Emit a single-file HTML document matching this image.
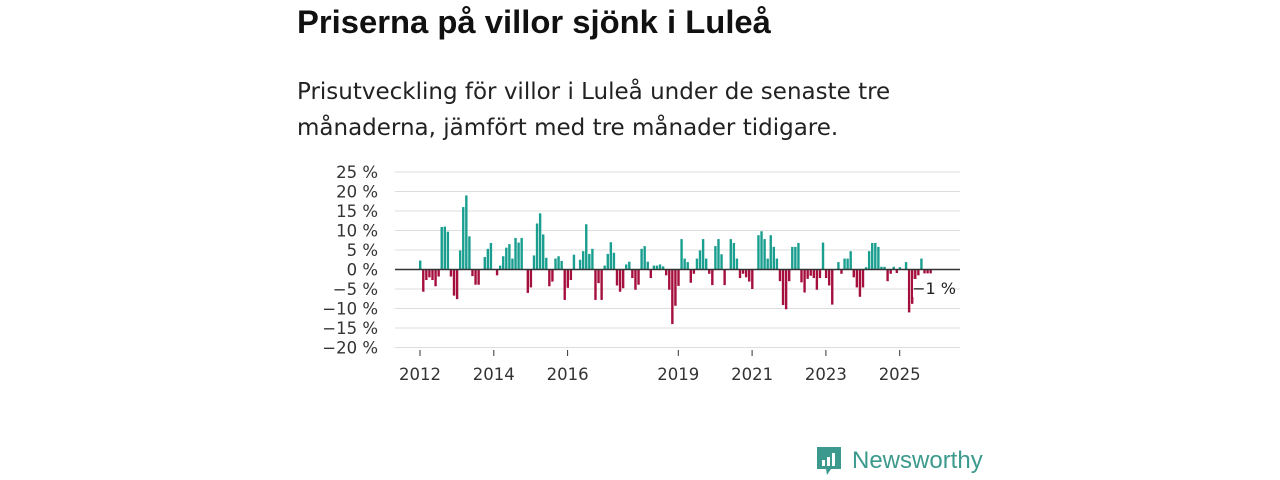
<!DOCTYPE html>
<html><head><meta charset="utf-8">
<style>
body{margin:0;width:1280px;height:480px;background:#fff;font-family:"DejaVu Sans",sans-serif;overflow:hidden;position:relative}
#title{position:absolute;left:297px;top:3px;font-size:32.8px;font-weight:bold;color:#111;margin:0;font-family:"Liberation Sans",sans-serif}
#sub{position:absolute;left:297px;top:74px;font-size:23px;line-height:36px;color:#222;margin:0;width:640px}
#logo{position:absolute;left:815px;top:445px;display:flex;align-items:center;color:#3b9a8d;font-size:24px;font-family:"Liberation Sans",sans-serif}
</style></head><body>
<h1 id="title">Priserna på villor sjönk i Luleå</h1>
<p id="sub">Prisutveckling för villor i Luleå under de senaste tre månaderna, jämfört med tre månader tidigare.</p>
<svg id="chart" width="1280" height="480" style="position:absolute;left:0;top:0" xmlns="http://www.w3.org/2000/svg"></svg>
<div id="logo">
<svg width="28" height="32" viewBox="0 0 28 32"><path d="M2 2h24v22H16l-4 6-1-6H2z" fill="#3b9a8d"/><rect x="7" y="15" width="3" height="6" fill="#fff"/><rect x="12" y="12" width="3" height="9" fill="#fff"/><rect x="17" y="8" width="3" height="13" fill="#fff"/></svg>
<span style="margin-left:9px">Newsworthy</span></div>
<script>
const startYear = 2012;
const values = [2.3,-5.7,-2.7,-2,-2.7,-4.3,-1.8,10.9,11,9.7,-1.8,-6.7,-7.6,4.9,16,19,8.5,-1.7,-3.9,-3.9,0,3.2,5.3,6.8,0,-1.5,1,3.4,5.6,6.5,2.8,8.1,6.9,8.1,0,-6,-4.6,3.6,11.8,14.4,9,3,-4.3,-3.1,2.8,3.4,2.2,-7.8,-4.7,-2.7,3.8,0,2.5,4.7,11.6,4,5.3,-7.8,-3.5,-7.8,1,4,7,4.3,-4.1,-5.7,-4.8,1.3,2,-2.2,-5.2,-3.9,5.3,6,2,-2.2,1,1,1.3,0.8,-1.5,-5.2,-14,-9.3,-4.2,7.8,2.8,1.9,-3.4,-1.1,2.8,4.9,7.8,2.8,-1.1,-4,6,7.8,3.9,-4,0,7.8,6.8,2.8,-2.2,-1.1,-2,-3.1,-5,0,8.8,9.8,7.8,2.8,8.8,5.8,2.8,-3,-9.1,-10.2,-3,5.8,5.8,6.8,-3.3,-5.9,-2.4,-1.6,-2.2,-5.2,-2.2,6.9,-2.2,-4.1,-9,0,1.9,-1.1,2.8,2.8,4.7,-2,-4.6,-7,-4.6,0.6,4.7,6.8,6.8,5.8,0.7,0.7,-3,-1.1,0.7,-0.9,0.6,0,1.9,-11,-8.8,-4.6,-1.5,2.8,-1,-1,-1];
const yTicks = [25,20,15,10,5,0,-5,-10,-15,-20];
const xTickYears = [2012,2014,2016,2019,2021,2023,2025];
const ns="http://www.w3.org/2000/svg", svg=document.getElementById('chart');
const y = v => 269.5 - v*3.9;
const x = i => 419 + i*3.075;
const xYear = yr => 420 + (yr-startYear)*36.9;
const F='DejaVu Sans, sans-serif';
function mk(t,a){const e=document.createElementNS(ns,t);for(const k in a)e.setAttribute(k,a[k]);svg.appendChild(e);return e;}
yTicks.forEach(v=>{
  if(v!==0){const g=mk('line',{x1:395,x2:960,y1:y(v),y2:y(v),stroke:'#ddd','stroke-width':1});
  
  }
  const t=mk('text',{x:378,y:y(v)+6,'text-anchor':'end','font-size':16.5,fill:'#333','font-family':F});
  t.textContent=(v<0?'\u2212'+(-v):v)+' %';
  
  
});
values.forEach((v,i)=>{
  const r=mk('rect',{x:x(i),y:Math.min(y(v),y(0)),width:2.4,height:Math.abs(y(v)-y(0)),fill:v>=0?'#1a9e8f':'#a50f3d'});
  
  
});
const z=mk('line',{x1:395,x2:960,y1:y(0),y2:y(0),stroke:'#333','stroke-width':1.5});


xTickYears.forEach(yr=>{
  const tk=mk('line',{x1:xYear(yr),x2:xYear(yr),y1:350,y2:356,stroke:'#333','stroke-width':1});
  
  
  const t=mk('text',{x:xYear(yr),y:380,'text-anchor':'middle','font-size':16.5,fill:'#333','font-family':F});
  t.textContent=yr;
  
  
});
const li=values.length-1;
const bg=mk('rect',{x:913,y:279,width:42,height:18,fill:'#fff'});


const lt=mk('text',{x:934,y:294,'text-anchor':'middle','font-size':16,fill:'#222','font-family':F});
lt.textContent='\u2212'+Math.abs(values[li])+' %';


</script>
</body></html>
